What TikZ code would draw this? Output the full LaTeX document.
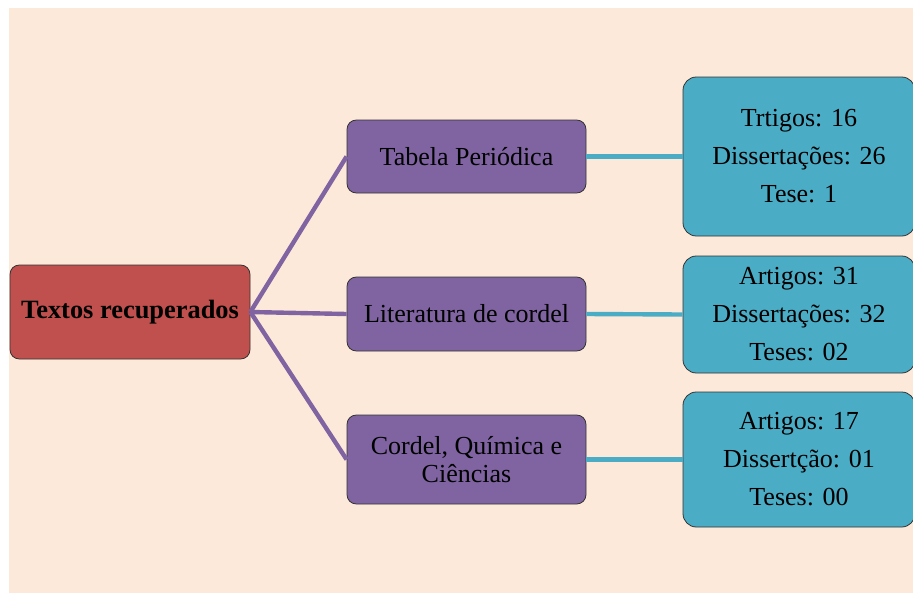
\documentclass[tikz,border=0pt]{standalone}
\usepackage{fontspec}
\setmainfont{Liberation Serif}
\usetikzlibrary{calc}

\definecolor{fundo}{RGB}{253,233,218}
\definecolor{vermelho}{RGB}{192,80,77}
\definecolor{roxo}{RGB}{128,100,162}
\definecolor{azul}{RGB}{75,172,198}

\begin{document}
\begin{tikzpicture}[x=0.75pt, y=-0.75pt,
    caixa/.style={draw=black!80, line width=0.6pt, rounded corners=7pt,
      align=center, inner sep=2pt, font=\fontsize{19.5}{21}\selectfont},
    raiz/.style={caixa, fill=vermelho, minimum width=180pt, minimum height=70.5pt,
      font=\fontsize{19.8}{21}\selectfont\bfseries},
    tema/.style={caixa, fill=roxo, minimum width=179.25pt},
    dados/.style={caixa, fill=azul, minimum width=174pt, rounded corners=10pt,
      font=\fontsize{19.5}{28.5}\selectfont},
    ramo/.style={roxo, line width=3.3pt},
    folha/.style={azul, line width=3.3pt}]
  \useasboundingbox (0,0) rectangle (913,593);
  \fill[fundo] (9,8) rectangle (913,593);

  \node[raiz] (raiz) at (130,312) {Textos recuperados};

  \node[tema, minimum height=54.75pt] (tabela) at (466.5,156.5) {Tabela Periódica};
  \node[tema, minimum height=55.5pt]  (literatura) at (466.5,314) {Literatura de cordel};
  \node[tema, minimum height=66.75pt] (quimica) at (466.5,459.5) {Cordel, Química e\\Ciências};

  \node[dados, minimum height=119.25pt] (dados1) at (799,156.5)
    {Trtigos: 16\\Dissertações: 26\\Tese: 1};
  \node[dados, minimum height=87.75pt]  (dados2) at (799,314.5)
    {Artigos: 31\\Dissertações: 32\\Teses: 02};
  \node[dados, minimum height=101.25pt] (dados3) at (799,459.5)
    {Artigos: 17\\Dissertção: 01\\Teses: 00};

  \draw[ramo] (raiz.east) -- (tabela.west);
  \draw[ramo] (raiz.east) -- (literatura.west);
  \draw[ramo] (raiz.east) -- (quimica.west);

  \draw[folha] (tabela.east) -- (dados1.west);
  \draw[folha] (literatura.east) -- (dados2.west);
  \draw[folha] (quimica.east) -- (dados3.west);
\end{tikzpicture}
\end{document}
